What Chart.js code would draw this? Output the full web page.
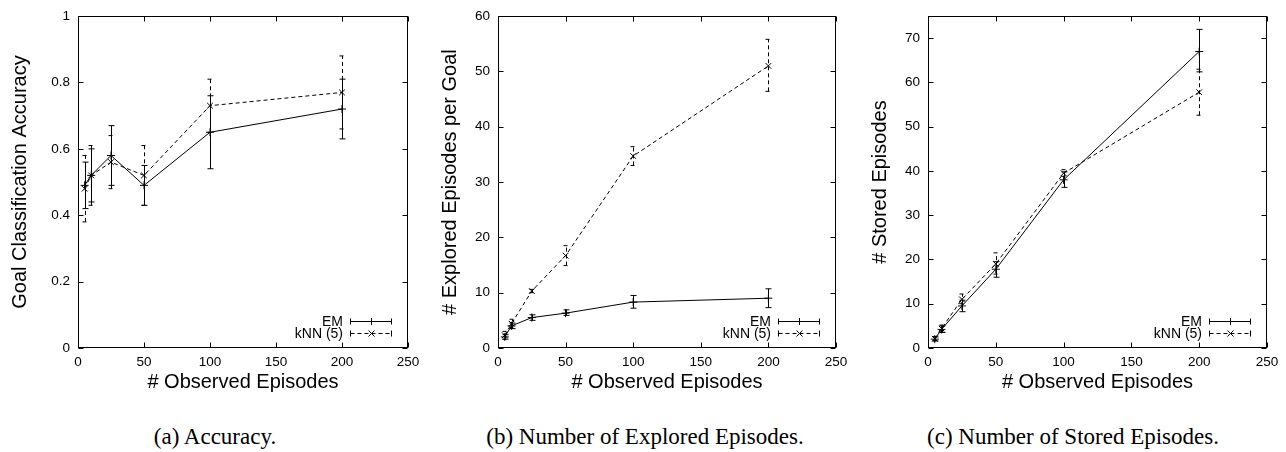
<!DOCTYPE html>
<html>
<head>
<meta charset="utf-8">
<script src="https://cdn.jsdelivr.net/npm/chart.js@4/dist/chart.umd.min.js"></script>
<style>
  html, body { margin: 0; padding: 0; background: #fff; }
  body { width: 1286px; height: 452px; position: relative; overflow: hidden; }
  canvas { position: absolute; top: 0; }
  .cap { position: absolute; top: 425px; width: 430px; text-align: center;
         font-family: "Liberation Serif", "DejaVu Serif", serif; font-size: 23px; line-height: 23px; color: #000; }
</style>
</head>
<body>
<canvas id="c1" width="430" height="400" style="left:0px;width:430px;height:400px"></canvas>
<canvas id="c2" width="430" height="400" style="left:430px;width:430px;height:400px"></canvas>
<canvas id="c3" width="426" height="400" style="left:860px;width:426px;height:400px"></canvas>
<div class="cap" style="left:0px">(a) Accuracy.</div>
<div class="cap" style="left:430px">(b) Number of Explored Episodes.</div>
<div class="cap" style="left:858px">(c) Number of Stored Episodes.</div>
<script>
// ---------- data ----------
const observed = [5, 10, 25, 50, 100, 200];
const seriesNames = ['EM', 'kNN (5)'];
const xTitle = '# Observed Episodes';

// (a) accuracy
const accEM      = [0.49, 0.52, 0.58, 0.49, 0.65, 0.72];
const accEMLow   = [0.42, 0.44, 0.49, 0.43, 0.54, 0.63];
const accEMHigh  = [0.56, 0.60, 0.67, 0.55, 0.76, 0.81];
const accKNN     = [0.48, 0.52, 0.56, 0.52, 0.73, 0.77];
const accKNNLow  = [0.38, 0.43, 0.48, 0.43, 0.65, 0.66];
const accKNNHigh = [0.58, 0.61, 0.64, 0.61, 0.81, 0.88];

// (b) explored episodes per goal
const expEM      = [2.0, 4.0, 5.5, 6.3, 8.3, 9.0];
const expEMLow   = [1.6, 3.5, 5.0, 5.9, 7.2, 7.3];
const expEMHigh  = [2.4, 4.5, 6.0, 6.9, 9.5, 10.7];
const expKNN     = [2.3, 4.4, 10.3, 16.7, 34.7, 51.0];
const expKNNLow  = [1.6, 3.6, 10.0, 14.9, 33.0, 46.4];
const expKNNHigh = [3.0, 5.2, 10.6, 18.5, 36.4, 55.8];

// (c) stored episodes
const stoEM      = [2.0, 4.2, 9.5, 17.8, 38.0, 67.0];
const stoEMLow   = [1.6, 3.5, 8.2, 16.0, 36.3, 62.4];
const stoEMHigh  = [2.5, 5.0, 10.8, 19.5, 39.8, 72.0];
const stoKNN     = [2.1, 4.4, 11.0, 19.0, 39.5, 57.8];
const stoKNNLow  = [1.6, 3.6, 10.0, 16.7, 38.8, 52.6];
const stoKNNHigh = [2.6, 5.2, 12.2, 21.5, 40.3, 63.0];

// ---------- helpers ----------
const DASH = [4, 3];
const pts = (ys) => observed.map((x, i) => ({x: x, y: ys[i]}));

const errorBars = {
  id: 'errorBars',
  afterDatasetsDraw(chart) {
    const ctx = chart.ctx, xs = chart.scales.x, ys = chart.scales.y;
    chart.data.datasets.forEach(ds => {
      ctx.save();
      ctx.strokeStyle = '#000';
      ctx.lineWidth = 1;
      ctx.setLineDash(ds.borderDash || []);
      observed.forEach((x, i) => {
        const px = Math.round(xs.getPixelForValue(x)) + 0.5;
        const lo = ys.getPixelForValue(ds.errLow[i]);
        const hi = ys.getPixelForValue(ds.errHigh[i]);
        ctx.beginPath();
        ctx.moveTo(px, lo); ctx.lineTo(px, hi);
        ctx.moveTo(px - 3, lo); ctx.lineTo(px + 3, lo);
        ctx.moveTo(px - 3, hi); ctx.lineTo(px + 3, hi);
        ctx.stroke();
      });
      ctx.restore();
    });
  }
};

const frame = {
  id: 'frame',
  afterDraw(chart) {
    const ctx = chart.ctx, a = chart.chartArea;
    const L = Math.round(a.left) + 0.5, R = Math.round(a.right) - 0.5;
    const T = Math.round(a.top) + 0.5, B = Math.round(a.bottom) - 0.5;
    ctx.save();
    ctx.strokeStyle = '#000';
    ctx.lineWidth = 1;
    ctx.strokeRect(L, T, R - L, B - T);
    ctx.beginPath();
    chart.scales.x.ticks.forEach(t => {
      const px = Math.round(chart.scales.x.getPixelForValue(t.value)) + 0.5;
      ctx.moveTo(px, B); ctx.lineTo(px, B - 5);
      ctx.moveTo(px, T); ctx.lineTo(px, T + 5);
    });
    chart.scales.y.ticks.forEach(t => {
      const py = Math.round(chart.scales.y.getPixelForValue(t.value)) + 0.5;
      ctx.moveTo(L, py); ctx.lineTo(L + 5, py);
      ctx.moveTo(R, py); ctx.lineTo(R - 5, py);
    });
    ctx.stroke();

    // legend (bottom right, inside the plot)
    ctx.font = '14px "Liberation Sans", Arial, sans-serif';
    ctx.fillStyle = '#000';
    ctx.textAlign = 'right';
    ctx.textBaseline = 'middle';
    chart.data.datasets.forEach((ds, k) => {
      const y = Math.round(a.bottom - 27 + k * 12) + 0.5;
      const x0 = Math.round(a.right - 58) + 0.5, x1 = Math.round(a.right - 17) + 0.5;
      ctx.fillText(ds.label, a.right - 65, y + 1);
      ctx.setLineDash(ds.borderDash || []);
      ctx.beginPath();
      ctx.moveTo(x0, y); ctx.lineTo(x1, y);
      ctx.stroke();
      ctx.setLineDash([]);
      ctx.beginPath();
      ctx.moveTo(x0, y - 3); ctx.lineTo(x0, y + 3);
      ctx.moveTo(x1, y - 3); ctx.lineTo(x1, y + 3);
      const cx = Math.round((x0 + x1) / 2) + 0.5;
      if (ds.pointStyle === 'cross') {
        ctx.moveTo(cx - 3.5, y); ctx.lineTo(cx + 3.5, y);
        ctx.moveTo(cx, y - 3.5); ctx.lineTo(cx, y + 3.5);
      } else {
        ctx.moveTo(cx - 3, y - 3); ctx.lineTo(cx + 3, y + 3);
        ctx.moveTo(cx - 3, y + 3); ctx.lineTo(cx + 3, y - 3);
      }
      ctx.stroke();
    });
    ctx.restore();
  }
};

function makeChart(id, yTitle, yMax, yStep, yAxisWidth, rightPad, em, emLo, emHi, knn, knnLo, knnHi) {
  const tickFont = {family: '"Liberation Sans", Arial, sans-serif', size: 13.5};
  const titleFont = {family: '"Liberation Sans", Arial, sans-serif', size: 20};
  return new Chart(document.getElementById(id), {
    type: 'scatter',
    data: {
      datasets: [
        { label: seriesNames[0], data: pts(em), errLow: emLo, errHigh: emHi,
          showLine: true, borderColor: '#000', backgroundColor: '#000', borderWidth: 1,
          pointStyle: 'cross', pointRadius: 4, pointBorderWidth: 1, borderDash: [] },
        { label: seriesNames[1], data: pts(knn), errLow: knnLo, errHigh: knnHi,
          showLine: true, borderColor: '#000', backgroundColor: '#000', borderWidth: 1,
          pointStyle: 'crossRot', pointRadius: 4, pointBorderWidth: 1, borderDash: DASH }
      ]
    },
    options: {
      responsive: false,
      animation: false,
      events: [],
      layout: { padding: { top: 15, right: rightPad, bottom: 0, left: 0 } },
      plugins: { legend: { display: false }, tooltip: { enabled: false } },
      scales: {
        x: {
          type: 'linear', min: 0, max: 250,
          grid: { display: false, drawTicks: false }, border: { display: false },
          ticks: { stepSize: 50, color: '#000', font: tickFont, padding: 6, maxRotation: 0 },
          title: { display: true, text: xTitle, color: '#000', font: titleFont, padding: { top: 0, bottom: 6 } },
          afterFit: s => { s.height = 52; }
        },
        y: {
          type: 'linear', min: 0, max: yMax,
          grid: { display: false, drawTicks: false }, border: { display: false },
          ticks: { stepSize: yStep, includeBounds: false, color: '#000', font: tickFont, padding: 8,
                   callback: v => String(Number(v.toFixed(2))) },
          title: { display: true, text: yTitle, color: '#000', font: titleFont, padding: { top: 8, bottom: 0 } },
          afterFit: s => { s.width = yAxisWidth; }
        }
      }
    },
    plugins: [errorBars, frame]
  });
}

makeChart('c1', 'Goal Classification Accuracy', 1, 0.2, 78, 22,
  accEM, accEMLow, accEMHigh, accKNN, accKNNLow, accKNNHigh);
makeChart('c2', '# Explored Episodes per Goal', 60, 10, 68, 430 - 406,
  expEM, expEMLow, expEMHigh, expKNN, expKNNLow, expKNNHigh);
makeChart('c3', '# Stored Episodes', 75, 10, 68, 426 - 407,
  stoEM, stoEMLow, stoEMHigh, stoKNN, stoKNNLow, stoKNNHigh);
</script>
</body>
</html>
